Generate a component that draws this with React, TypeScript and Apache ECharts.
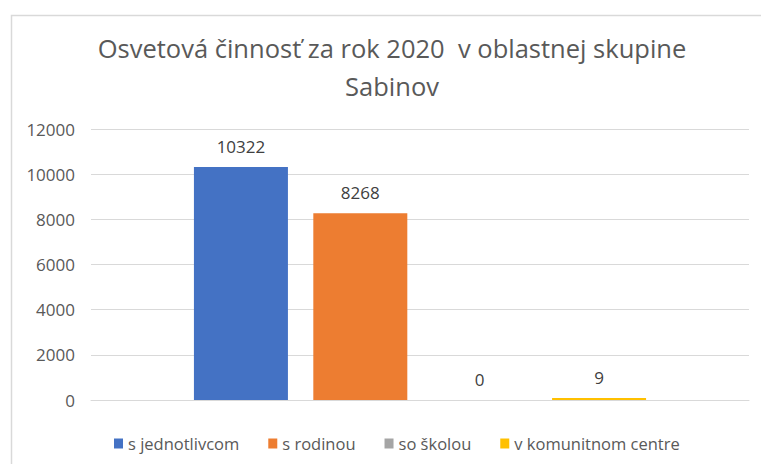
import React, { useEffect, useRef } from "react";
import * as echarts from "echarts";

const titleText = "Osvetová činnosť za rok 2020  v oblastnej skupine\nSabinov";
const categories = [""];
const seriesNames = ["s jednotlivcom", "s rodinou", "so školou", "v komunitnom centre"];
const seriesValues = [10322, 8268, 0, 9];
const seriesColors = ["#4472C4", "#ED7D31", "#A5A5A5", "#FFC000"];
const yTicks = { min: 0, max: 12000, interval: 2000 };

const FONT = "'Open Sans', 'Noto Sans', sans-serif";

export default function App() {
  const ref = useRef<HTMLDivElement>(null);
  useEffect(() => {
    if (!ref.current) return;
    const chart = echarts.init(ref.current, undefined, { renderer: "svg" });
    chart.setOption({
      animation: false,
      backgroundColor: "#ffffff",
      textStyle: { fontFamily: FONT },
      graphic: [
        {
          type: "rect",
          shape: { x: 11.5, y: 15.5, width: 800, height: 500 },
          style: { fill: "none", stroke: "#D9D9D9", lineWidth: 1.5 },
          silent: true,
        },
      ],
      title: {
        text: titleText,
        left: 392,
        top: 29,
        padding: 0,
        textAlign: "center",
        textStyle: {
          fontFamily: FONT,
          fontSize: 25.5,
          fontWeight: "normal",
          color: "#595959",
          lineHeight: 38,
        },
      },
      legend: {
        left: 109,
        top: 430,
        itemWidth: 9,
        itemHeight: 10,
        itemGap: 29,
        icon: "rect",
        textStyle: { fontFamily: FONT, fontSize: 16.5, color: "#595959" },
        data: seriesNames,
      },
      grid: { left: 91, right: 12, top: 129, bottom: 64 },
      xAxis: {
        type: "category",
        data: categories,
        axisLine: { lineStyle: { color: "#D9D9D9", width: 1 } },
        axisTick: { show: false },
        axisLabel: { show: false },
      },
      yAxis: {
        type: "value",
        min: yTicks.min,
        max: yTicks.max,
        interval: yTicks.interval,
        axisLine: { show: false },
        axisTick: { show: false },
        splitLine: { lineStyle: { color: "#D9D9D9", width: 1 } },
        axisLabel: {
          fontFamily: FONT,
          fontSize: 17,
          color: "#595959",
          margin: 16,
          formatter: (v: number) => String(v),
        },
      },
      series: seriesNames.map((name, i) => ({
        name,
        type: "bar",
        data: [seriesValues[i]],
        barWidth: 94,
        barGap: "27%",
        barMinHeight: i === 3 ? 2 : 0,
        itemStyle: { color: seriesColors[i] },
        label: {
          show: true,
          position: "top",
          distance: 12,
          fontFamily: FONT,
          fontSize: 17,
          color: "#404040",
        },
      })),
    });
    return () => chart.dispose();
  }, []);
  return (
    <div
      ref={ref}
      style={{ position: "fixed", left: 0, top: 0, width: 761, height: 464 }}
    />
  );
}
